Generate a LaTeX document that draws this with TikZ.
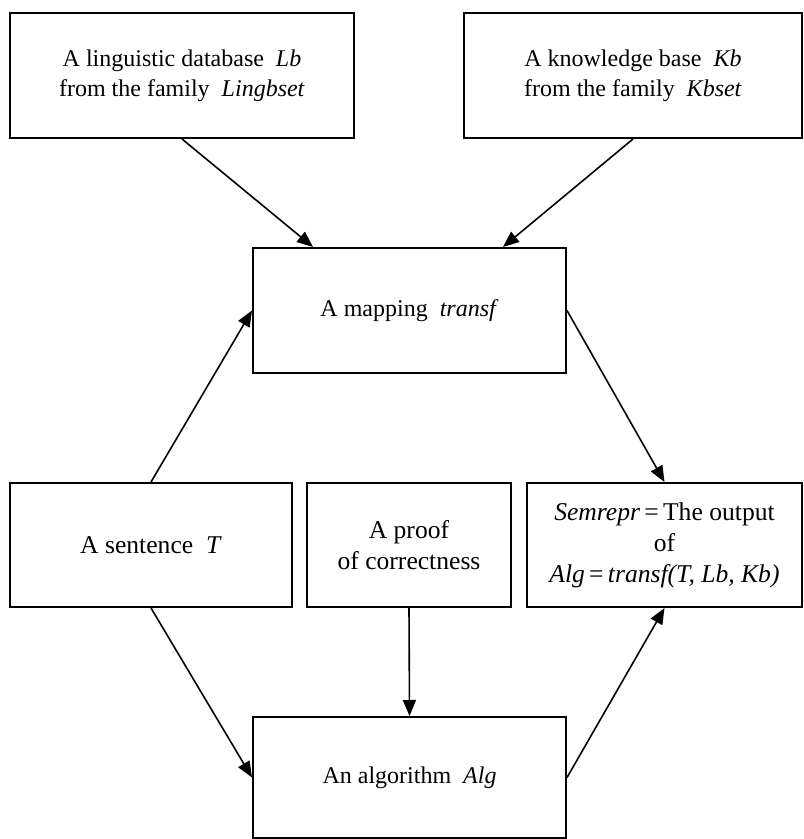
\documentclass[tikz,border=0pt]{standalone}
\usepackage{fontspec}
\setmainfont{Liberation Serif}
\usepackage{tikz}
\usetikzlibrary{arrows.meta}

\begin{document}
\begin{tikzpicture}[x=0.5pt, y=-0.5pt,
  box/.style={draw, line width=1pt, align=center, inner sep=0pt,
    font=\fontsize{12}{15}\selectfont},
  midbox/.style={box, minimum height=62pt, font=\fontsize{12.8}{15.5}\selectfont},
  link/.style={-{Triangle[length=8pt,width=6.5pt]}, line width=0.8pt}]
 \useasboundingbox (0,0) rectangle (803,839);
 % top row
 \node (lb) [box, minimum width=172pt, minimum height=62.5pt] at (182,75.5)
  {A linguistic database~ \textit{Lb}\\from the family~ \textit{Lingbset}};
 \node (kb) [box, minimum width=169pt, minimum height=62.5pt] at (633,75.5)
  {A knowledge base~ \textit{Kb}\\from the family~ \textit{Kbset}};
 \node (transf) [box, minimum width=156.5pt, minimum height=62.5pt] at (409.5,310.5)
  {A mapping~ \textit{transf}};
 % middle row
 \node (sent) [midbox, minimum width=141pt] at (151,545)
  {A sentence~ \textit{T}};
 \node (proof) [midbox, minimum width=102pt] at (409,545)
  {A proof\\of correctness};
 \node (semrepr) [midbox, minimum width=137.5pt] at (664.5,545)
  {\textit{Semrepr}\,=\,The output\\of\\\textit{Alg}\,=\,\textit{transf(T, Lb, Kb)}};
 \node (alg) [box, minimum width=156.5pt, minimum height=60.5pt] at (409.5,777.5)
  {An algorithm~ \textit{Alg}};
 \path[link]
  (lb.south) edge (transf.north -| 313,0)
  (kb.south) edge (transf.north -| 503,0)
  (sent.north) edge (transf.west)
  (transf.east) edge (semrepr.north)
  (sent.south) edge (alg.west)
  (proof.south) edge (alg.north)
  (alg.east) edge (semrepr.south)
;
\end{tikzpicture}
\end{document}
